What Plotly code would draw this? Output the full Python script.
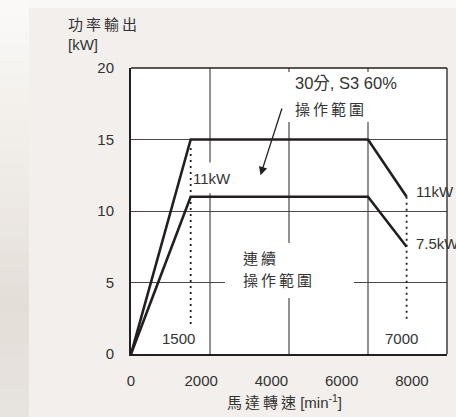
import plotly.graph_objects as go

# ---------------- data ----------------
speed_pts = [0, 1700, 6750, 7850]          # motor speed break points (axis units)
power_s3 = [0, 15, 15, 11]                 # 30 min, S3 60% range [kW]
power_cont = [0, 11, 11, 7.5]              # continuous range [kW]
x_ticks = [0, 2000, 4000, 6000, 8000]
y_ticks = [0, 5, 10, 15, 20]
x_grid = [2250, 4500, 6750]
base_speed_label = "1500"
max_speed_label = "7000"

# ---------------- layout constants ----------------
W, H = 456, 417
L, R, T, B = 131, 9, 68, 63
X_MAX, Y_MAX = 9000, 20
PW, PH = W - L - R, H - T - B

FONT = "Liberation Sans, Noto Sans CJK TC, sans-serif"
TXT = "#333333"
LINE = "#231f20"
GRID = "#4a4646"
BG = "#f2efec"
THIN = "\u2009"


def sp(s):
    return THIN.join(s)


def pxx(px):
    return (px - L) / PW


def pxy(py):
    return (H - B - py) / PH


def hexmix(c1, c2, t):
    a = [int(c1[i:i + 2], 16) for i in (1, 3, 5)]
    b = [int(c2[i:i + 2], 16) for i in (1, 3, 5)]
    return "#" + "".join(f"{round(a[k] + (b[k] - a[k]) * t):02x}" for k in range(3))


fig = go.Figure()

common = dict(mode="lines", hoverinfo="skip", showlegend=False, cliponaxis=False)
fig.add_trace(go.Scatter(x=speed_pts, y=power_s3, line=dict(color=LINE, width=2.6), **common))
fig.add_trace(go.Scatter(x=speed_pts, y=power_cont, line=dict(color=LINE, width=2.6), **common))
# dotted guides at base speed and max speed
fig.add_trace(go.Scatter(x=[speed_pts[1], speed_pts[1]], y=[power_s3[1] - 0.6, 2.0],
                         line=dict(color=LINE, width=1.8, dash="2px,4px"), **common))
fig.add_trace(go.Scatter(x=[speed_pts[-1], speed_pts[-1]], y=[power_s3[-1], 2.2],
                         line=dict(color=LINE, width=1.8, dash="2px,4px"), **common))

shapes = []
# background: left gradient strip
stops = [(0, "#fbfaf9"), (100, "#f4f1ed"), (200, "#ede9e4"), (300, "#e4ded9"), (417, "#e7e3de")]
nb = 28
for i in range(nb):
    y0p = H * i / nb
    y1p = H * (i + 1) / nb
    ym = (y0p + y1p) / 2
    for j in range(len(stops) - 1):
        if stops[j][0] <= ym <= stops[j + 1][0]:
            t = (ym - stops[j][0]) / (stops[j + 1][0] - stops[j][0])
            col = hexmix(stops[j][1], stops[j + 1][1], t)
            break
    shapes.append(dict(type="rect", xref="paper", yref="paper", x0=pxx(0), x1=pxx(29),
                       y0=pxy(y0p), y1=pxy(y1p + 0.5), fillcolor=col, line=dict(width=0), layer="below"))
shapes.append(dict(type="rect", xref="paper", yref="paper", x0=pxx(29), x1=pxx(W),
                   y0=pxy(0), y1=pxy(8), fillcolor="#f9f8f7", line=dict(width=0), layer="below"))

# vertical grid lines
for g in x_grid:
    shapes.append(dict(type="line", xref="x", yref="y", x0=g, x1=g, y0=0, y1=Y_MAX,
                       line=dict(color=GRID, width=1.2), layer="between"))
# white boxes behind labels (break grid lines)
for (bx0, bx1, by0, by1) in [(4358, 7775, 16.22, 19.72), (2677, 6351, 3.92, 7.76), (1740, 3000, 11.25, 13.4)]:
    shapes.append(dict(type="rect", xref="x", yref="y", x0=bx0, x1=bx1, y0=by0, y1=by1,
                       fillcolor="white", line=dict(width=0), layer="between"))
# top & right border
shapes.append(dict(type="line", xref="paper", yref="paper", x0=0, x1=1, y0=1, y1=1,
                   line=dict(color=LINE, width=1.3), layer="above"))
shapes.append(dict(type="line", xref="paper", yref="paper", x0=1, x1=1, y0=0, y1=1,
                   line=dict(color=LINE, width=1.3), layer="above"))

f15 = dict(family=FONT, size=15, color=TXT)
ann = []


def txt(x, y, text, xanchor="left", xref="x", yref="y", size=15):
    ann.append(dict(x=x, y=y, xref=xref, yref=yref, text=text, showarrow=False,
                    xanchor=xanchor, yanchor="middle", align="left",
                    font=dict(family=FONT, size=size, color=TXT), borderpad=0, borderwidth=0))


# axis titles
txt(pxx(68), pxy(35), sp("功率輸出") + "<br>[kW]", xref="paper", yref="paper")
txt(pxx(284), pxy(401), sp("馬達轉速") + " [min<sup>-1</sup>]", xanchor="center", xref="paper", yref="paper")
# region labels
txt(4662, 18.95, "30分, S3 60%", size=16.5)
txt(4662, 17.13, sp("操作範圍"))
txt(3190, 6.7, sp("連續"))
txt(3190, 5.15, sp("操作範圍"))
# power labels
txt(1766, 12.24, f"{power_cont[1]:g}kW")
txt(8117, 11.35, f"{power_s3[-1]:g}kW")
txt(8117, 7.74, f"{power_cont[-1]:g}kW")
# speed labels
txt(1353, 1.1, base_speed_label, xanchor="center")
txt(7710, 1.1, max_speed_label, xanchor="center")
# arrow
ann.append(dict(x=3688, y=12.5, ax=4312, ay=17.27, xref="x", yref="y", axref="x", ayref="y",
                text="", showarrow=True, arrowhead=2, arrowsize=1.3, arrowwidth=1.3,
                arrowcolor=LINE, standoff=0, startstandoff=0))

fig.update_layout(
    width=W, height=H,
    margin=dict(l=L, r=R, t=T, b=B, pad=0),
    paper_bgcolor=BG, plot_bgcolor="white",
    font=f15,
    shapes=shapes, annotations=ann,
    showlegend=False,
    xaxis=dict(range=[0, X_MAX], tickvals=x_ticks, ticktext=[str(v) for v in x_ticks],
               showgrid=False, zeroline=False, showline=True, linewidth=2, linecolor=LINE,
               ticks="", tickfont=f15, ticklabelstandoff=12, fixedrange=True),
    yaxis=dict(range=[0, Y_MAX], tickvals=y_ticks, ticktext=[str(v) for v in y_ticks],
               showgrid=True, gridcolor=GRID, gridwidth=1.2, zeroline=False,
               showline=True, linewidth=2, linecolor=LINE,
               ticks="", tickfont=f15, ticklabelstandoff=12, fixedrange=True),
)

fig.write_html("out.html", config={"displayModeBar": False})
